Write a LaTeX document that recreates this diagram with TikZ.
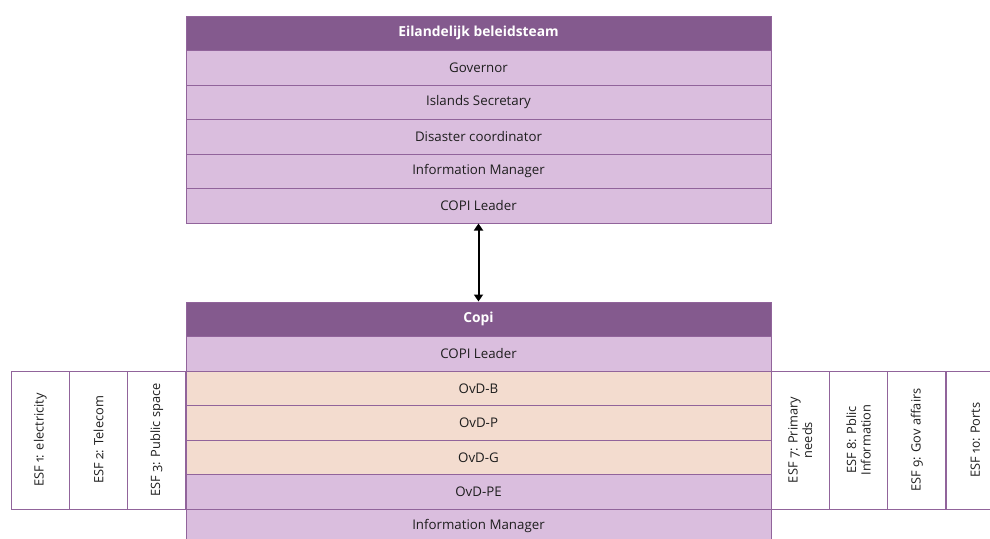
\documentclass[tikz,border=0pt]{standalone}
\usepackage{fontspec}
\setmainfont{Open Sans}[Numbers=OldStyle]
\usetikzlibrary{arrows.meta}

\definecolor{headpurple}{RGB}{132,90,142}
\definecolor{rowlilac}{RGB}{218,190,222}
\definecolor{rowpeach}{RGB}{243,220,207}
\definecolor{linepurple}{RGB}{145,100,155}
\definecolor{textgrey}{RGB}{30,30,30}

\begin{document}
\begin{tikzpicture}[x=1pt,y=-1pt,
    cell/.style={draw=linepurple,line width=1pt,minimum width=585pt,minimum height=34.5pt,
        inner sep=0pt,text=textgrey,font=\fontsize{13.3}{15}\selectfont},
    head/.style={cell,fill=headpurple,text=white,font=\fontsize{13.8}{16}\selectfont\bfseries},
    lilac/.style={cell,fill=rowlilac},
    peach/.style={cell,fill=rowpeach},
    esf/.style={draw=linepurple,line width=1pt,fill=white,rotate=90,minimum width=138pt,
        minimum height=58.3pt,inner sep=0pt,align=center,text=textgrey,
        font=\fontsize{12.8}{14.5}\selectfont}]
    \useasboundingbox (0,0) rectangle (990,538);

    %% top block
    \node (beleid) at (478.5,33.25) [head] {Eilandelijk beleidsteam};
    \node (governor) at (478.5,67.75) [lilac] {Governor};
    \node (secretary) at (478.5,102.25) [lilac] {Islands Secretary};
    \node (disaster) at (478.5,136.75) [lilac] {Disaster coordinator};
    \node (infoa) at (478.5,171.25) [lilac] {Information Manager};
    \node (leadera) at (478.5,205.75) [lilac] {COPI Leader};

    %% bottom block
    \node (copi) at (478.5,319.25) [head] {Copi};
    \node (leaderb) at (478.5,353.75) [lilac] {COPI Leader};
    \node (ovdb) at (478.5,388.25) [peach] {OvD-B};
    \node (ovdp) at (478.5,422.75) [peach] {OvD-P};
    \node (ovdg) at (478.5,457.25) [peach] {OvD-G};
    \node (ovdpe) at (478.5,491.75) [lilac] {OvD-PE};
    \node (infob) at (478.5,526.25) [lilac] {Information Manager};

    %% ESF left
    \node (esfa) at (40.2,440) [esf] {ESF 1: electricity};
    \node (esfb) at (98.5,440) [esf] {ESF 2: Telecom};
    \node (esfc) at (156.8,440) [esf] {ESF 3: Public space};

    %% ESF right
    \node (esfg) at (800.2,440) [esf] {ESF 7: Primary\\needs};
    \node (esfh) at (858.5,440) [esf] {ESF 8: Pblic\\Information};
    \node (esfi) at (916.8,440) [esf] {ESF 9: Gov affairs};
    \node (esfj) at (975.2,440) [esf] {ESF 10: Ports};

    \draw[line width=2pt,{Triangle[width=9pt,length=7pt]}-{Triangle[width=9pt,length=7pt]}]
        (leadera.south) -- (copi.north);
\end{tikzpicture}
\end{document}
